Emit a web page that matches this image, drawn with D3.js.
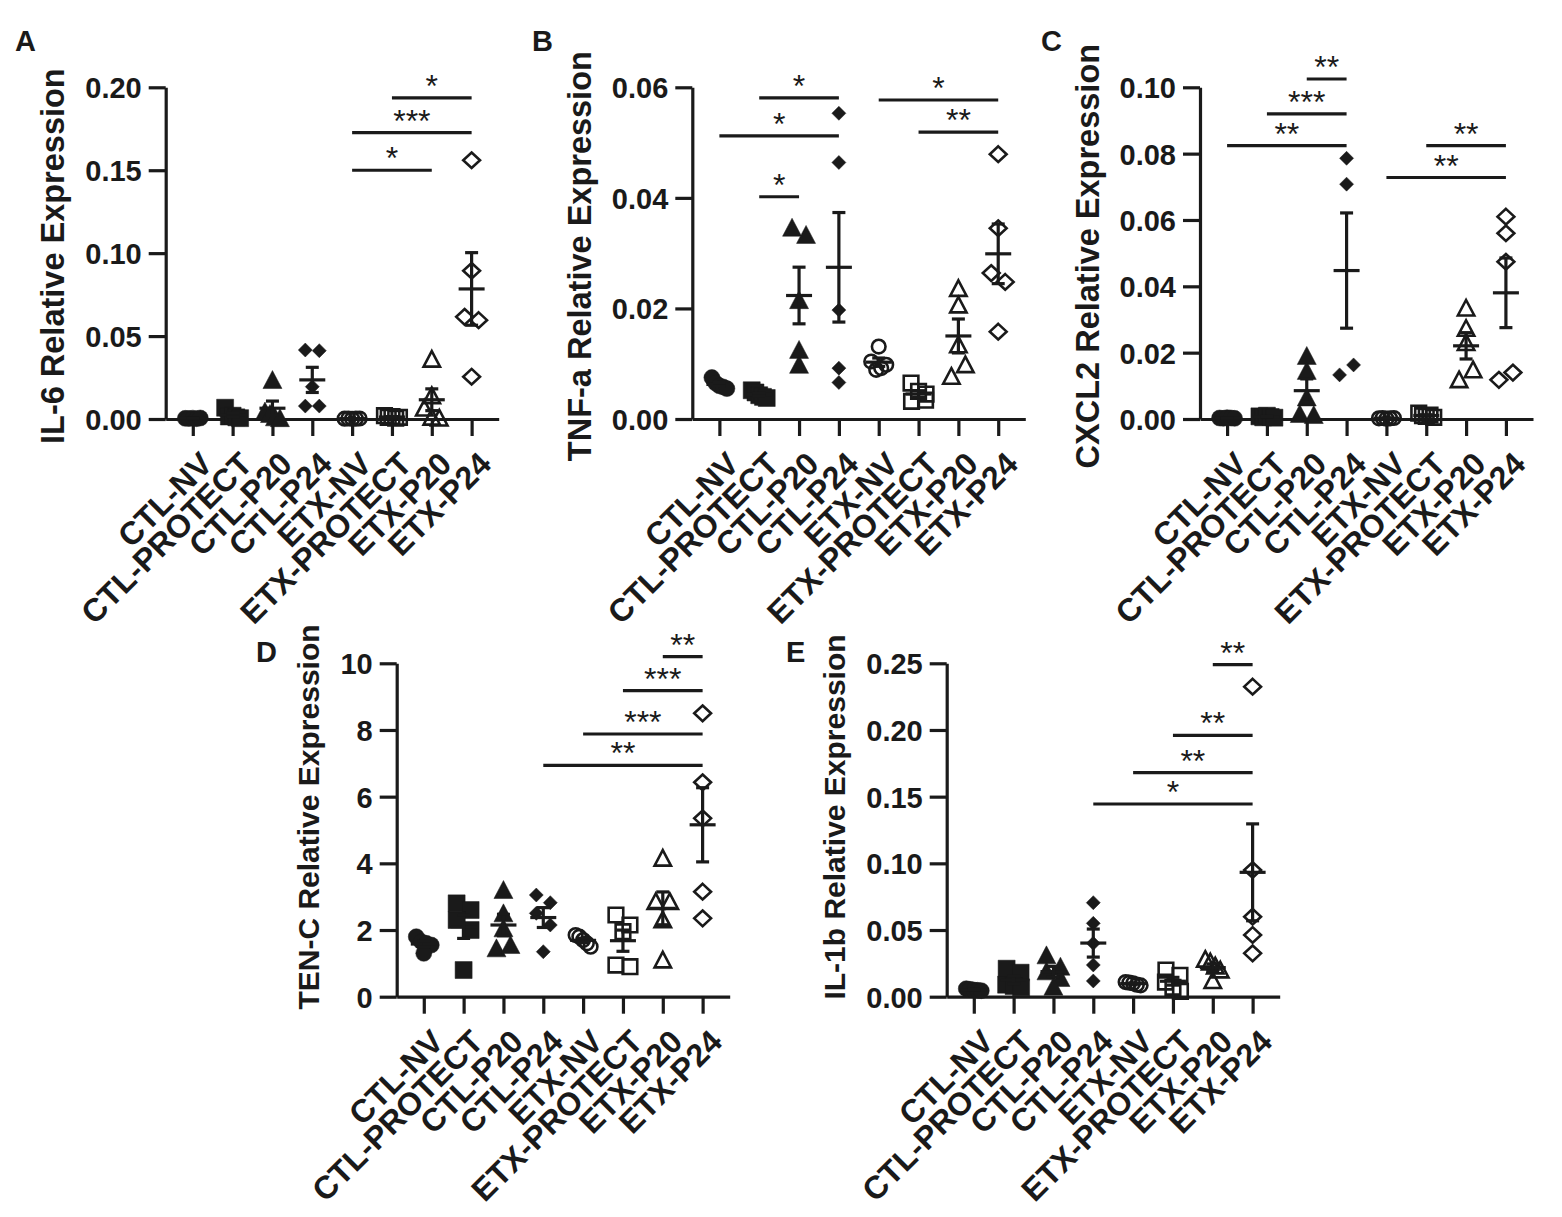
<!DOCTYPE html>
<html><head><meta charset="utf-8">
<script src="https://cdn.jsdelivr.net/npm/d3@7"></script>
<style>
body{margin:0;background:#fff}
svg{display:block}
text{font-family:"Liberation Sans",Arial,Helvetica,sans-serif;fill:#1a1a1a}
</style>
</head><body>
<svg id="c" width="1562" height="1217"></svg>
<script>
// ---------- DATA ----------
const categories = ["CTL-NV","CTL-PROTECT","CTL-P20","CTL-P24","ETX-NV","ETX-PROTECT","ETX-P20","ETX-P24"];

// A: IL-6
const il6Values = [
  [0.0004,0.0003,0.0005,0.0002,0.0006],
  [0.0068,0.0015,0.002,0.001,0.0005],
  [0.0235,0.0045,0.003,0.001,0.0005],
  [0.0416,0.0412,0.0195,0.0078,0.0078],
  [0.0002,0.0003,0.0001,0.0002,0.0003],
  [0.002,0.001,0.0015,0.0005,0.001],
  [0.036,0.014,0.0065,0.001,0.0005],
  [0.156,0.0894,0.0616,0.0596,0.0255]
];
const il6Ticks = [0,0.05,0.10,0.15,0.20];
const il6Sig = [[5,7,0.1936,"*"],[4,7,0.1727,"***"],[4,6,0.150,"*"]];

// B: TNF-a
const tnfValues = [
  [0.0075,0.0065,0.006,0.0058,0.0055],
  [0.0052,0.0048,0.0043,0.004,0.0038],
  [0.0346,0.0333,0.0215,0.0125,0.0098],
  [0.0553,0.0464,0.0197,0.0092,0.0066],
  [0.0131,0.0104,0.0089,0.0092,0.0098],
  [0.0065,0.005,0.0032,0.0034,0.0045],
  [0.0236,0.0206,0.0134,0.0077,0.0098],
  [0.0479,0.0345,0.0264,0.0248,0.0158]
];
const tnfTicks = [0,0.02,0.04,0.06];
const tnfSig = [[1,3,0.0581,"*"],[0,3,0.0512,"*"],[1,2,0.0402,"*"],[4,7,0.0577,"*"],[5,7,0.0519,"**"]];

// C: CXCL2
const cxclValues = [
  [0.0003,0.0002,0.0004,0.0003,0.0002],
  [0.0008,0.0005,0.001,0.0006,0.0004],
  [0.019,0.0145,0.0065,0.0015,0.0012],
  [0.0786,0.0708,0.0133,0.0163],
  [0.0002,0.0003,0.0001,0.0002,0.0003],
  [0.0018,0.001,0.0008,0.0012,0.0005],
  [0.0334,0.0273,0.023,0.0118,0.0148],
  [0.061,0.056,0.0474,0.0118,0.014]
];
const cxclTicks = [0,0.02,0.04,0.06,0.08,0.10];
const cxclSig = [[2,3,0.1025,"**"],[1,3,0.092,"***"],[0,3,0.0824,"**"],[5,7,0.0824,"**"],[4,7,0.0728,"**"]];

// D: TEN-C
const tencValues = [
  [1.8,1.65,1.6,1.55,1.3],
  [2.8,2.6,2.3,2.0,0.8],
  [3.2,2.5,2.05,1.45,1.55],
  [3.05,2.82,2.5,2.15,1.35],
  [1.85,1.8,1.7,1.6,1.5],
  [2.45,2.15,1.95,0.95,0.9],
  [4.15,2.85,2.85,2.3,1.1],
  [8.5,6.43,5.35,3.15,2.35]
];
const tencTicks = [0,2,4,6,8,10];
const tencSig = [[6,7,10.2,"**"],[5,7,9.18,"***"],[4,7,7.88,"***"],[3,7,6.94,"**"]];

// E: IL-1b
const il1bValues = [
  [0.006,0.0055,0.005,0.0048,0.0045],
  [0.021,0.018,0.009,0.008,0.007],
  [0.031,0.0225,0.019,0.014,0.0075],
  [0.0705,0.055,0.04,0.0238,0.0118],
  [0.011,0.0105,0.01,0.009,0.0085],
  [0.02,0.016,0.011,0.007,0.004],
  [0.028,0.026,0.023,0.02,0.012],
  [0.2325,0.095,0.06,0.0463,0.0325]
];
const il1bTicks = [0,0.05,0.10,0.15,0.20,0.25];
const il1bSig = [[6,7,0.249,"**"],[5,7,0.196,"**"],[4,7,0.168,"**"],[3,7,0.1445,"*"]];

// ---------- STYLE / LAYOUT ----------
const INK = "#1a1a1a";
const markerKinds = ["circle","square","triangle","diamondS","circle","square","triangle","diamond"];
const markerFilled = [true,true,true,true,false,false,false,false];

const panels = [
  {letter:"A", lpos:[15,51], title:"IL-6 Relative Expression", tsize:32.5, tshift:3, values:il6Values, ticks:il6Ticks, sig:il6Sig, fmt:d3.format(".2f"), ax:165.7, y0:419, yTop:87.3},
  {letter:"B", lpos:[532,51], title:"TNF-a Relative Expression", tsize:32.5, tshift:3, values:tnfValues, ticks:tnfTicks, sig:tnfSig, fmt:d3.format(".2f"), ax:692.3, y0:419, yTop:87.3},
  {letter:"C", lpos:[1041,51], title:"CXCL2 Relative Expression", tsize:32.5, tshift:3, values:cxclValues, ticks:cxclTicks, sig:cxclSig, fmt:d3.format(".2f"), ax:1200, y0:419, yTop:87.3},
  {letter:"D", lpos:[256,662], title:"TEN-C Relative Expression", tsize:30, tshift:-13, values:tencValues, ticks:tencTicks, sig:tencSig, fmt:d3.format("d"), ax:396.7, y0:996.7, yTop:663.3},
  {letter:"E", lpos:[786,662], title:"IL-1b Relative Expression", tsize:30, tshift:-13, values:il1bValues, ticks:il1bTicks, sig:il1bSig, fmt:d3.format(".2f"), ax:946.7, y0:996.7, yTop:663.3}
];

const PW = 333, TICK = 17, SW = 3.2;

function markerPath(kind, filled){
  const p = d3.path();
  if (kind === "circle"){ const r = filled ? 8 : 6.8; p.moveTo(r,0); p.arc(0,0,r,0,2*Math.PI); }
  else if (kind === "square"){ const h = filled ? 8.5 : 7.3; p.rect(-h,-h,2*h,2*h); }
  else if (kind === "triangle"){ const w = filled ? 9.5 : 8.2, t = filled ? 9.5 : 8.2, b = filled ? 8.5 : 7.3;
    p.moveTo(0,-t); p.lineTo(w,b); p.lineTo(-w,b); p.closePath(); }
  else if (kind === "diamondS"){ const h = 7; p.moveTo(0,-h); p.lineTo(h,0); p.lineTo(0,h); p.lineTo(-h,0); p.closePath(); }
  else { const w = 8.4, h = 7.8; p.moveTo(0,-h); p.lineTo(w,0); p.lineTo(0,h); p.lineTo(-w,0); p.closePath(); }
  return p.toString();
}

// horizontal spreading of overlapping points (rows of near-equal values, centered)
function spread(vals, y, T=12, spacing=14, L=7.5){
  const order = vals.map((v,i)=>i).sort((a,b)=>vals[b]-vals[a]);
  const rows = [];
  order.forEach(i=>{
    const r = rows[rows.length-1];
    if (r && Math.abs(y(vals[r[0]]) - y(vals[i])) < T) r.push(i); else rows.push([i]);
  });
  const off = vals.map(()=>0);
  rows.forEach(r=>{
    r.sort((a,b)=>a-b);
    const n = r.length, s = n>1 ? Math.min(spacing, 2*L/(n-1)) : 0;
    r.forEach((i,k)=>{ off[i] = (k-(n-1)/2)*s; });
  });
  return off;
}

const svg = d3.select("#c");

panels.forEach(p=>{
  const g = svg.append("g");
  const x = d3.scalePoint().domain(categories).range([p.ax, p.ax+PW]).padding(0.68);
  const y = d3.scaleLinear().domain([0, p.ticks[p.ticks.length-1]]).range([p.y0, p.yTop]);

  // panel letter
  g.append("text").attr("x",p.lpos[0]).attr("y",p.lpos[1]).text(p.letter)
    .attr("font-size",29).attr("font-weight","bold");

  // y axis
  const ya = g.append("g").attr("transform",`translate(${p.ax},0)`)
    .call(d3.axisLeft(y).tickValues(p.ticks).tickFormat(p.fmt).tickSize(TICK).tickSizeOuter(0).tickPadding(7));
  ya.attr("font-family",null).attr("font-size",null);
  ya.select(".domain").attr("stroke",INK).attr("stroke-width",SW);
  ya.selectAll(".tick line").attr("stroke",INK).attr("stroke-width",SW);
  ya.selectAll(".tick text").attr("fill",INK).attr("font-size",29).attr("font-weight","bold").attr("dy","0.36em");

  // x axis
  const xa = g.append("g").attr("transform",`translate(0,${p.y0})`)
    .call(d3.axisBottom(x).tickSize(TICK).tickSizeOuter(0));
  xa.attr("font-family",null).attr("font-size",null);
  xa.select(".domain").attr("stroke",INK).attr("stroke-width",SW);
  xa.selectAll(".tick line").attr("stroke",INK).attr("stroke-width",SW);
  xa.selectAll(".tick text").attr("fill",INK).attr("font-size",32).attr("font-weight","bold")
    .attr("y",0).attr("dy",0).attr("text-anchor","end")
    .attr("transform","translate(21,47) rotate(-45)");

  // y title
  let minX = Infinity;
  ya.selectAll(".tick text").each(function(){ const b=this.getBBox(); minX = Math.min(minX, p.ax + b.x); });
  g.append("text").attr("transform",`translate(${minX-21},${(p.y0+p.yTop)/2 + p.tshift}) rotate(-90)`)
    .attr("text-anchor","middle").attr("font-size",p.tsize).attr("font-weight","bold").text(p.title);

  // points
  p.values.forEach((vals, ci)=>{
    const cx = x(categories[ci]);
    const off = spread(vals, y);
    const kind = markerKinds[ci], filled = markerFilled[ci];
    const d = markerPath(kind, filled);
    g.append("g").selectAll("path").data(vals).join("path")
      .attr("d", d)
      .attr("transform",(v,i)=>`translate(${cx+off[i]},${y(v)})`)
      .attr("fill", filled ? INK : "none")
      .attr("stroke", INK).attr("stroke-width", filled ? 0.5 : 2.6)
      .attr("stroke-linejoin","miter");
    // mean +- SEM
    const m = d3.mean(vals), sem = d3.deviation(vals)/Math.sqrt(vals.length);
    const eb = g.append("g").attr("stroke",INK).attr("stroke-width",SW);
    eb.append("line").attr("x1",cx-13).attr("x2",cx+13).attr("y1",y(m)).attr("y2",y(m));
    eb.append("line").attr("x1",cx).attr("x2",cx).attr("y1",y(m-sem)).attr("y2",y(m+sem));
    [m-sem, m+sem].forEach(v=>eb.append("line").attr("x1",cx-6.5).attr("x2",cx+6.5).attr("y1",y(v)).attr("y2",y(v)));
  });

  // significance bars
  p.sig.forEach(([a,b,v,lab])=>{
    const x1 = x(categories[a]), x2 = x(categories[b]);
    g.append("line").attr("x1",x1).attr("x2",x2).attr("y1",y(v)).attr("y2",y(v))
      .attr("stroke",INK).attr("stroke-width",SW);
    g.append("text").attr("x",(x1+x2)/2).attr("y",y(v)-1).attr("text-anchor","middle")
      .attr("font-size",32).text(lab);
  });
});
</script>
</body></html>
